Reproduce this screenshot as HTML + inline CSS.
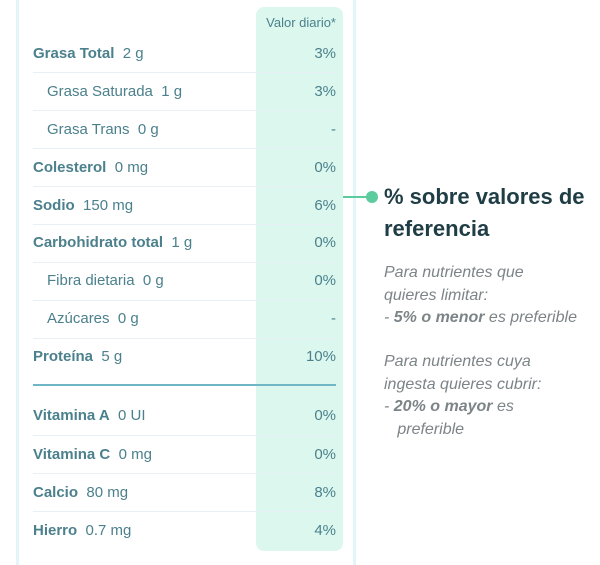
<!DOCTYPE html>
<html><head><meta charset="utf-8"><style>
body{margin:0;width:600px;height:557px;background:#fff;font-family:"Liberation Sans",sans-serif;position:relative;overflow:hidden}
.card{position:absolute;left:16px;top:-5px;width:334px;height:570px;border-left:3px solid #e3f5fb;border-right:3px solid #e3f5fb}
.col{position:absolute;left:256px;top:7px;width:87px;height:544px;background:#dcf8ee;border-radius:8px}
.t{position:absolute;color:#4b808c;font-size:15px;line-height:18px;white-space:nowrap}
.r{position:absolute;right:264px;text-align:right;color:#4b808c;font-size:15px;line-height:18px}
b{font-weight:bold}
.sep{position:absolute;left:33px;width:303px;height:1px;background:#e7f1f3}
.g{position:absolute;left:384px;color:#7c8487;font-style:italic;font-size:16px;line-height:22.5px}
</style></head><body>
<div class="card"></div>
<div class="col"></div>
<div class="r" style="top:14px;font-size:13px">Valor diario*</div>

<div class="t" style="left:33px;top:45px"><b>Grasa Total</b>&nbsp; 2 g</div><div class="r" style="top:45px">3%</div>
<div class="sep" style="top:72px"></div>
<div class="t" style="left:47px;top:83px">Grasa Saturada&nbsp; 1 g</div><div class="r" style="top:83px">3%</div>
<div class="sep" style="top:110px"></div>
<div class="t" style="left:47px;top:121px">Grasa Trans&nbsp; 0 g</div><div class="r" style="top:121px">-</div>
<div class="sep" style="top:148px"></div>
<div class="t" style="left:33px;top:159px"><b>Colesterol</b>&nbsp; 0 mg</div><div class="r" style="top:159px">0%</div>
<div class="sep" style="top:186px"></div>
<div class="t" style="left:33px;top:197px"><b>Sodio</b>&nbsp; 150 mg</div><div class="r" style="top:197px">6%</div>
<div class="sep" style="top:224px"></div>
<div class="t" style="left:33px;top:234px"><b>Carbohidrato total</b>&nbsp; 1 g</div><div class="r" style="top:234px">0%</div>
<div class="sep" style="top:262px"></div>
<div class="t" style="left:47px;top:272px">Fibra dietaria&nbsp; 0 g</div><div class="r" style="top:272px">0%</div>
<div class="sep" style="top:300px"></div>
<div class="t" style="left:47px;top:310px">Azúcares&nbsp; 0 g</div><div class="r" style="top:310px">-</div>
<div class="sep" style="top:338px"></div>
<div class="t" style="left:33px;top:348px"><b>Proteína</b>&nbsp; 5 g</div><div class="r" style="top:348px">10%</div>
<div class="sep" style="top:384px;height:2px;background:#6fb6c6"></div>
<div class="t" style="left:33px;top:407px"><b>Vitamina A</b>&nbsp; 0 UI</div><div class="r" style="top:407px">0%</div>
<div class="sep" style="top:435px"></div>
<div class="t" style="left:33px;top:446px"><b>Vitamina C</b>&nbsp; 0 mg</div><div class="r" style="top:446px">0%</div>
<div class="sep" style="top:473px"></div>
<div class="t" style="left:33px;top:484px"><b>Calcio</b>&nbsp; 80 mg</div><div class="r" style="top:484px">8%</div>
<div class="sep" style="top:511px"></div>
<div class="t" style="left:33px;top:522px"><b>Hierro</b>&nbsp; 0.7 mg</div><div class="r" style="top:522px">4%</div>

<div style="position:absolute;left:343px;top:196px;width:28px;height:2px;background:#5ccc9e"></div>
<div style="position:absolute;left:366px;top:191px;width:12px;height:12px;border-radius:50%;background:#5ccc9e"></div>
<div style="position:absolute;left:384px;top:181px;color:#1f3d45;font-size:22px;font-weight:bold;line-height:32px">% sobre valores de<br>referencia</div>
<div class="g" style="top:262px">Para nutrientes que<br>quieres limitar:<br>- <b>5% o menor</b> es preferible</div>
<div class="g" style="top:351px">Para nutrientes cuya<br>ingesta quieres cubrir:<br>- <b>20% o mayor</b> es<br>&nbsp;&nbsp;&nbsp;preferible</div>
</body></html>
